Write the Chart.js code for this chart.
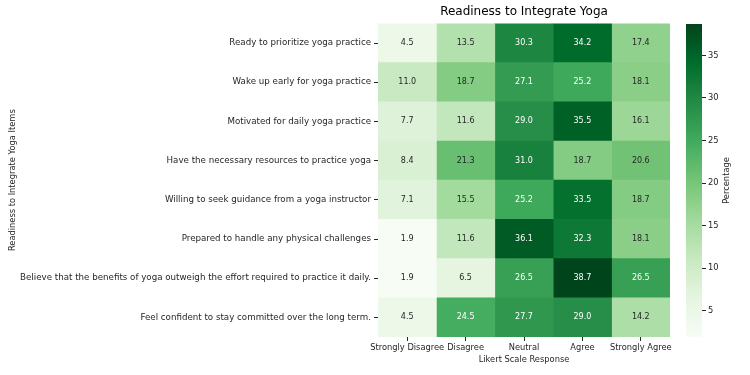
<!DOCTYPE html>
<html>
<head>
<meta charset="utf-8">
<script src="https://cdn.jsdelivr.net/npm/chart.js@4"></script>
<style>
  html, body { margin: 0; padding: 0; background: #fff; }
  #wrap { position: relative; width: 750px; height: 375px; }
  #heat { position: absolute; left: 0; top: 0; }
  #cbar { position: absolute; left: 680px; top: 0; }
</style>
</head>
<body>
<div id="wrap">
  <canvas id="heat" width="680" height="375"></canvas>
  <canvas id="cbar" width="70" height="375"></canvas>
</div>
<script>
// items (rows) and likert responses (columns)
const items = [
    'Ready to prioritize yoga practice',
    'Wake up early for yoga practice',
    'Motivated for daily yoga practice',
    'Have the necessary resources to practice yoga',
    'Willing to seek guidance from a yoga instructor',
    'Prepared to handle any physical challenges',
    'Believe that the benefits of yoga outweigh the effort required to practice it daily.',
    'Feel confident to stay committed over the long term.'
];
const responses = ['Strongly Disagree', 'Disagree', 'Neutral', 'Agree', 'Strongly Agree'];

// percentages, one array per response column
const stronglyDisagree = [4.5, 11.0, 7.7, 8.4, 7.1, 1.9, 1.9, 4.5];
const disagree         = [13.5, 18.7, 11.6, 21.3, 15.5, 11.6, 6.5, 24.5];
const neutral          = [30.3, 27.1, 29.0, 31.0, 25.2, 36.1, 26.5, 27.7];
const agree            = [34.2, 25.2, 35.5, 18.7, 33.5, 32.3, 38.7, 29.0];
const stronglyAgree    = [17.4, 18.1, 16.1, 20.6, 18.7, 18.1, 26.5, 14.2];

const columns = [stronglyDisagree, disagree, neutral, agree, stronglyAgree];

// colorbar ticks
const cbarTicks = [5, 10, 15, 20, 25, 30, 35];

// Greens colormap
const greens = ['#f7fcf5', '#e5f5e0', '#c7e9c0', '#a1d99b', '#74c476', '#41ab5d', '#238b45', '#006d2c', '#00441b'];

const allVals = columns.flat();
const vmin = Math.min(...allVals);
const vmax = Math.max(...allVals);

function hexToRgb(h) {
    return [parseInt(h.slice(1, 3), 16), parseInt(h.slice(3, 5), 16), parseInt(h.slice(5, 7), 16)];
}

function cmap(v) {
    let t = (v - vmin) / (vmax - vmin);
    t = Math.max(0, Math.min(1, t));
    const pos = t * (greens.length - 1);
    const i = Math.min(Math.floor(pos), greens.length - 2);
    const f = pos - i;
    const a = hexToRgb(greens[i]), b = hexToRgb(greens[i + 1]);
    return a.map((c, k) => Math.round(c + (b[k] - c) * f));
}

function rgbStr(c) {
    return 'rgb(' + c[0] + ',' + c[1] + ',' + c[2] + ')';
}

function textColor(c) {
    const lin = c.map(x => {
        x = x / 255;
        return x <= 0.03928 ? x / 12.92 : Math.pow((x + 0.055) / 1.055, 2.4);
    });
    const lum = 0.2126 * lin[0] + 0.7152 * lin[1] + 0.0722 * lin[2];
    return lum > 0.408 ? '#262626' : '#ffffff';
}

Chart.defaults.font.family = 'DejaVu Sans';
Chart.defaults.font.size = 8;
Chart.defaults.color = '#262626';

// cell value labels
const cellLabels = {
    id: 'cellLabels',
    afterDatasetsDraw(chart) {
        const ctx = chart.ctx;
        ctx.save();
        ctx.font = '8px DejaVu Sans';
        ctx.textAlign = 'center';
        ctx.textBaseline = 'middle';
        chart.data.datasets.forEach((ds, di) => {
            chart.getDatasetMeta(di).data.forEach((el, i) => {
                const v = columns[di][i];
                ctx.fillStyle = textColor(cmap(v));
                ctx.fillText(v.toFixed(1), (el.x + el.base) / 2, el.y);
            });
        });
        ctx.restore();
    }
};

new Chart(document.getElementById('heat'), {
    type: 'bar',
    data: {
        labels: items,
        datasets: columns.map((vals, c) => ({
            label: responses[c],
            data: vals.map(() => [c, c + 1]),
            backgroundColor: vals.map(v => rgbStr(cmap(v))),
            borderWidth: 0,
            grouped: false,
            barPercentage: 1,
            categoryPercentage: 1
        }))
    },
    options: {
        responsive: false,
        animation: false,
        indexAxis: 'y',
        layout: { padding: { left: 0, right: 10, top: 0, bottom: 0 } },
        plugins: {
            legend: { display: false },
            tooltip: { enabled: false },
            title: {
                display: true,
                fullSize: false,
                text: 'Readiness to Integrate Yoga',
                font: { size: 12, weight: 'normal' },
                color: '#000',
                padding: { top: 5, bottom: 4 }
            }
        },
        scales: {
            x: {
                type: 'linear',
                min: 0,
                max: responses.length,
                afterBuildTicks: axis => {
                    axis.ticks = responses.map((r, i) => ({ value: i + 0.5 }));
                },
                afterFit: axis => { axis.height = 38; },
                ticks: {
                    autoSkip: false,
                    maxRotation: 0,
                    padding: 2,
                    font: { size: 8.3 },
                    callback: function(value) {
                        return responses[Math.floor(value)];
                    }
                },
                grid: { drawOnChartArea: false, drawTicks: true, tickLength: 4, color: '#262626' },
                border: { display: false },
                title: {
                    display: true,
                    text: 'Likert Scale Response',
                    font: { size: 8.3 },
                    padding: { top: 0, bottom: 10 }
                }
            },
            y: {
                afterFit: axis => { axis.width = 378; },
                ticks: { autoSkip: false, padding: 3, font: { size: 8.7 } },
                grid: { offset: false, drawOnChartArea: false, drawTicks: true, tickLength: 4, color: '#262626' },
                border: { display: false },
                title: {
                    display: true,
                    text: 'Readiness to Integrate Yoga Items',
                    font: { size: 8.3 },
                    padding: { top: 8, bottom: 0 }
                }
            }
        }
    },
    plugins: [cellLabels]
});

// colorbar
const cbarTitle = {
    id: 'cbarTitle',
    afterDraw(chart) {
        const ctx = chart.ctx;
        const a = chart.chartArea;
        ctx.save();
        ctx.translate(47, (a.top + a.bottom) / 2);
        ctx.rotate(-Math.PI / 2);
        ctx.font = '8.3px DejaVu Sans';
        ctx.fillStyle = '#262626';
        ctx.textAlign = 'center';
        ctx.textBaseline = 'middle';
        ctx.fillText('Percentage', 0, 0);
        ctx.restore();
    }
};

new Chart(document.getElementById('cbar'), {
    type: 'bar',
    data: {
        labels: ['cbar'],
        datasets: [{
            data: [[vmin, vmax]],
            backgroundColor: function(context) {
                const chart = context.chart;
                const scale = chart.scales.y;
                if (!chart.chartArea || !scale) return greens[4];
                const g = chart.ctx.createLinearGradient(0, scale.getPixelForValue(vmin), 0, scale.getPixelForValue(vmax));
                greens.forEach((c, i) => g.addColorStop(i / (greens.length - 1), c));
                return g;
            },
            borderWidth: 0,
            barPercentage: 1,
            categoryPercentage: 1
        }]
    },
    options: {
        responsive: false,
        animation: false,
        layout: { padding: { left: 6, right: 0, top: 24, bottom: 38 } },
        plugins: {
            legend: { display: false },
            tooltip: { enabled: false }
        },
        scales: {
            x: { display: false },
            y: {
                position: 'right',
                min: vmin,
                max: vmax,
                afterBuildTicks: axis => {
                    axis.ticks = cbarTicks.map(v => ({ value: v }));
                },
                afterFit: axis => { axis.width = 48; },
                ticks: { padding: 2, font: { size: 8.3 } },
                grid: { drawOnChartArea: false, drawTicks: true, tickLength: 4, color: '#262626' },
                border: { display: false }
            }
        }
    },
    plugins: [cbarTitle]
});
</script>
</body>
</html>
